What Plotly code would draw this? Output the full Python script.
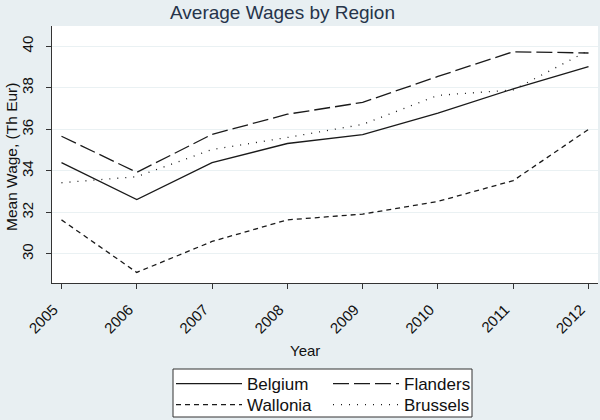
import plotly.graph_objects as go

years = [2005, 2006, 2007, 2008, 2009, 2010, 2011, 2012]
tick_labels = ["2005", "2006", "2007", "2008", "2009", "2010", "2011", "2012"]
belgium = [34.40, 32.62, 34.40, 35.32, 35.75, 36.78, 37.95, 39.02]
flanders = [35.67, 33.93, 35.76, 36.73, 37.30, 38.55, 39.74, 39.68]
wallonia = [31.64, 29.11, 30.60, 31.64, 31.92, 32.53, 33.53, 36.00]
brussels = [33.43, 33.72, 35.03, 35.61, 36.24, 37.64, 37.90, 39.80]
y_ticks = [30, 32, 34, 36, 38, 40]

W, H = 600, 420
ML, MR, MT, MB = 52, 2, 26, 137
PW, PH = W - ML - MR, H - MT - MB

def px_x(p):
    return (p - ML) / PW

def px_y(p):
    return (H - MB - p) / PH

FONT = "Arial, Liberation Sans, sans-serif"
INK = "#1a1a1a"
BG = "#e8eff2"

fig = go.Figure()
series = [
    ("Belgium", belgium, "solid", "legend"),
    ("Flanders", flanders, "16px,5px", "legend"),
    ("Wallonia", wallonia, "5px,4px", "legend2"),
    ("Brussels", brussels, "1px,7px", "legend2"),
]
for name, vals, dash, lg in series:
    fig.add_trace(go.Scatter(
        x=years, y=vals, name=name, mode="lines",
        line=dict(color=INK, width=1.3, dash=dash),
        legend=lg,
    ))

legend_common = dict(
    orientation="h", xanchor="left", yanchor="top",
    bgcolor="rgba(0,0,0,0)", borderwidth=0,
    font=dict(family=FONT, size=17, color="#111"),
    itemwidth=66, entrywidth=76, itemclick=False,
)

fig.update_layout(
    width=W, height=H,
    margin=dict(l=ML, r=MR, t=MT, b=MB, autoexpand=False),
    paper_bgcolor=BG, plot_bgcolor="white",
    font=dict(family=FONT, size=15, color="#111"),
    showlegend=True,
    legend=dict(x=px_x(171), y=px_y(366), **legend_common),
    legend2=dict(x=px_x(171), y=px_y(387), **legend_common),
    xaxis=dict(
        range=[2004.874, 2012.126], tickmode="array", tickvals=years, ticktext=tick_labels,
        tickangle=-45, ticks="outside", ticklen=5, tickcolor="#333",
        ticklabelshift=-8, ticklabelstandoff=6, automargin=False,
        showline=True, linecolor="#333", linewidth=1, showgrid=False, zeroline=False,
        tickfont=dict(family=FONT, size=15, color="#111"),
    ),
    yaxis=dict(
        range=[28.6, 40.98], tickmode="array", tickvals=y_ticks,
        tickangle=-90, ticks="outside", ticklen=5, tickcolor="#333",
        ticklabelstandoff=7, automargin=False,
        showline=True, linecolor="#333", linewidth=1,
        showgrid=True, gridcolor="#eaf1f3", gridwidth=1, zeroline=False,
        tickfont=dict(family=FONT, size=15, color="#111"),
    ),
    shapes=[dict(
        type="rect", xref="paper", yref="paper",
        x0=px_x(173), x1=px_x(472), y0=px_y(369), y1=px_y(417),
        line=dict(color="#333", width=1), fillcolor="white", layer="below",
    )],
    annotations=[
        dict(text="Average Wages by Region", xref="paper", yref="paper",
             x=px_x(282), y=px_y(13), xanchor="center", yanchor="middle",
             showarrow=False, font=dict(family=FONT, size=19, color="#26344a")),
        dict(text="Year", xref="paper", yref="paper",
             x=px_x(305), y=px_y(350), xanchor="center", yanchor="middle",
             showarrow=False, font=dict(family=FONT, size=15, color="#111")),
        dict(text="Mean Wage, (Th Eur)", xref="paper", yref="paper",
             x=px_x(11), y=px_y(157), xanchor="center", yanchor="middle", textangle=-90,
             showarrow=False, font=dict(family=FONT, size=15.5, color="#111")),
    ],
)

fig.write_html(
    "out.html",
    config={"displayModeBar": False},
    post_script="document.body.style.margin='0';document.body.style.background='%s';" % BG,
)
